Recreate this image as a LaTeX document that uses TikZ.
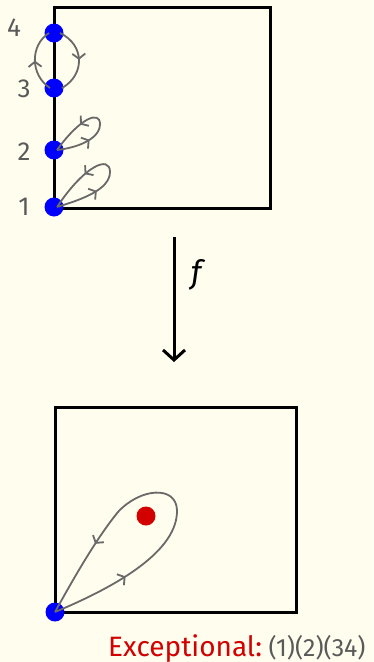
\documentclass[tikz,border=0pt]{standalone}
\usepackage{fontspec}
\setmainfont{Fira Sans}
\usetikzlibrary{positioning,arrows.meta,decorations.markings}
\definecolor{paper}{RGB}{255,253,238}
\definecolor{dotblue}{RGB}{0,0,255}
\definecolor{dotred}{RGB}{210,0,0}
\definecolor{loopgray}{RGB}{105,105,105}
\definecolor{labgray}{RGB}{90,90,90}

\begin{document}
\begin{tikzpicture}[
  x=1pt,y=-1pt,
  frame/.style={draw=black,line width=3pt},
  pt/.style={circle,fill=dotblue,minimum size=19pt,inner sep=0pt},
  hole/.style={circle,fill=dotred,minimum size=19pt,inner sep=0pt},
  num/.style={text=labgray,font=\fontsize{26}{26}\selectfont,inner sep=0pt},
  lp/.style={draw=loopgray,line width=1.8pt,
             decoration={markings,
               mark=at position #1 with {\arrow{Straight Barb[length=5pt,width=13pt]}},
               mark=at position 1-#1 with {\arrow{Straight Barb[length=5pt,width=13pt]}}},
             postaction={decorate}},
  lp/.default=0.3,
  mid/.style={draw=loopgray,line width=1.8pt,
              decoration={markings,
                mark=at position 0.5 with {\arrow{Straight Barb[length=5pt,width=13pt]}}},
              postaction={decorate}},
  map/.style={-{Straight Barb[length=10pt,width=22pt]},line width=3pt},
]
\fill[paper] (0,0) rectangle (373,662);
\useasboundingbox (0,0) rectangle (373,662);

\draw[frame] (54,7) rectangle (270,208);
\draw[frame] (55,407) rectangle (296,612);

\node[pt] (p1) at (54,207) {};
\node[pt] (p2) at (54,150) {};
\node[pt] (p3) at (54,88) {};
\node[pt] (p4) at (54,33) {};
\node[num] (l1) at (24,207) {1};
\node[num] (l2) at (24,152) {2};
\node[num] (l3) at (24,89) {3};
\node[num] (l4) at (14,28) {4};

\draw[mid] ([xshift=-4pt]p3.center) .. controls (30,75) and (30,45) .. ([xshift=-5pt]p4.center);
\draw[mid] ([xshift=6pt]p4.center) .. controls (85,45) and (85,75) .. ([xshift=8pt]p3.center);
\draw[lp] ([xshift=3pt]p2.center) .. controls (75,148) and (100,140) .. (100,124)
      .. controls (100,110) and (80,118) .. ([xshift=3pt]p2.center);
\draw[lp] ([xshift=3pt]p1.center) .. controls (80,200) and (110,190) .. (110,172)
      .. controls (110,155) and (85,165) .. ([xshift=3pt]p1.center);

\coordinate (fa) at (174,237);
\coordinate (fb) at (174,362);
\draw[map] (fa) -- node[right=12pt,pos=0.3,font=\fontsize{32}{32}\selectfont\itshape] (fl) {f} (fb);

\node[hole] (red) at (146,516) {};
\node[pt] (q1) at (55,612) {};
\draw[lp=0.22] (q1.center) .. controls (120,585) and (178,550) .. (177,510)
      .. controls (176,485) and (140,488) .. (118,512)
      .. controls (95,540) and (70,585) .. (q1.center);

\node[anchor=base west,inner sep=0pt,text=dotred,font=\fontsize{28}{28}\selectfont] (exc) at (108,656) {Exceptional:};
\node[anchor=base west,inner sep=0pt,text=labgray,font=\fontsize{25}{25}\selectfont,xshift=6pt] (cyc) at (exc.base east) {(1)(2)(34)};
\end{tikzpicture}
\end{document}
